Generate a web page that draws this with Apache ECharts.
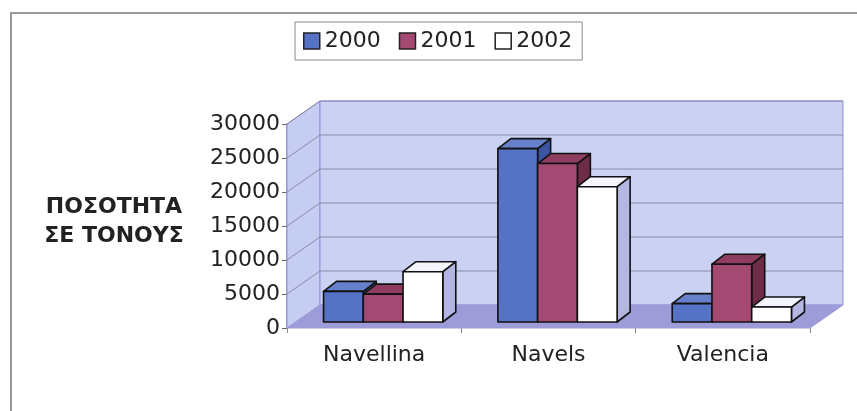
<!DOCTYPE html>
<html>
<head>
<meta charset="utf-8">
<script src="https://cdn.jsdelivr.net/npm/echarts@6/dist/echarts.min.js"></script>
<style>html,body{margin:0;padding:0;background:#fff}#chart{width:857px;height:411px}</style>
</head>
<body>
<div id="chart"></div>
<script>
// data
var categories = ['Navellina', 'Navels', 'Valencia'];
var years = ['2000', '2001', '2002'];
var tons2000 = [4500, 25500, 2700];
var tons2001 = [4100, 23300, 8500];
var tons2002 = [7400, 19900, 2200];
var yTicks = [0, 5000, 10000, 15000, 20000, 25000, 30000];

var myChart = echarts.init(document.getElementById('chart'));

// 3d look: depth of the floor/walls and of the bars
var DEPTH = {x: 33, y: -23};
var BAR_SHIFT = {x: 9, y: -6};
var BAR_DEPTH = {x: 13, y: -10};
var faces = [
	{front: '#5572c4', top: '#6680cc', side: '#3d55a0'},
	{front: '#a44a72', top: '#8e3c60', side: '#6e2c48'},
	{front: '#ffffff', top: '#f4f4fc', side: '#b4b6e2'}
];
var font = 'DejaVu Sans';

function plotEdges(api) {
	var band = api.size([1, 0])[0];
	var L = api.coord([0, 0])[0] - band / 2;
	var R = api.coord([categories.length - 1, 0])[0] + band / 2;
	var yB = api.coord([0, 0])[1];
	var yT = api.coord([0, yTicks[yTicks.length - 1]])[1];
	return {L: L, R: R, yB: yB, yT: yT, band: band};
}

function wallsRender(params, api) {
	var e = plotEdges(api);
	var dx = DEPTH.x, dy = DEPTH.y;
	var edge = {stroke: '#8f8fd6', lineWidth: 1};
	return {
		type: 'group',
		children: [
			{type: 'polygon', shape: {points: [[e.L, e.yB], [e.L, e.yT], [e.L + dx, e.yT + dy], [e.L + dx, e.yB + dy]]},
				style: Object.assign({fill: '#c6cdf2'}, edge)},
			{type: 'rect', shape: {x: e.L + dx, y: e.yT + dy, width: e.R - e.L, height: e.yB - e.yT},
				style: Object.assign({fill: '#cad1f3'}, edge)},
			{type: 'polygon', shape: {points: [[e.L, e.yB], [e.R, e.yB], [e.R + dx, e.yB + dy], [e.L + dx, e.yB + dy]]},
				style: {fill: '#9e9cd8', stroke: '#9e9cd8', lineWidth: 1}}
		]
	};
}

function gridRender(params, api) {
	var v = api.value(0);
	if (v === 0) return null;
	var e = plotEdges(api);
	var y = api.coord([0, v])[1];
	return {
		type: 'polyline',
		shape: {points: [[e.L, y], [e.L + DEPTH.x, y + DEPTH.y], [e.R + DEPTH.x, y + DEPTH.y]]},
		style: {stroke: '#8a8aa6', lineWidth: 1, fill: null}
	};
}

function barRender(idx) {
	return function (params, api) {
		var cat = api.value(0);
		var base = api.coord([cat, 0]);
		var top = api.coord([cat, api.value(1)]);
		var bw = api.size([1, 0])[0] * 0.228;
		var x0 = base[0] - 1.5 * bw + idx * bw + BAR_SHIFT.x;
		var x1 = x0 + bw;
		var yb = base[1] + BAR_SHIFT.y;
		var yt = top[1] + BAR_SHIFT.y;
		var dx = BAR_DEPTH.x, dy = BAR_DEPTH.y;
		var f = faces[idx];
		var line = {stroke: '#111', lineWidth: 1.6, lineJoin: 'round'};
		return {
			type: 'group',
			children: [
				{type: 'polygon', shape: {points: [[x1, yt], [x1 + dx, yt + dy], [x1 + dx, yb + dy], [x1, yb]]},
					style: Object.assign({fill: f.side}, line)},
				{type: 'polygon', shape: {points: [[x0, yt], [x1, yt], [x1 + dx, yt + dy], [x0 + dx, yt + dy]]},
					style: Object.assign({fill: f.top}, line)},
				{type: 'rect', shape: {x: x0, y: yt, width: bw, height: yb - yt},
					style: Object.assign({fill: f.front}, line)}
			]
		};
	};
}

var seriesData = [tons2000, tons2001, tons2002];
var series = [
	{name: 'walls', type: 'custom', renderItem: wallsRender, data: [[0]], silent: true, z: 1},
	{name: 'grid', type: 'custom', renderItem: gridRender, data: yTicks.map(function (t) { return [t]; }), silent: true, z: 2}
];
for (var i = 0; i < years.length; i++) {
	series.push({
		name: years[i],
		type: 'custom',
		renderItem: barRender(i),
		itemStyle: {color: faces[i].front},
		data: seriesData[i].map(function (v, k) { return [k, v]; }),
		z: 3 + i
	});
}

var option = {
	backgroundColor: '#fff',
	animation: false,
	textStyle: {fontFamily: font},
	legend: {
		data: years,
		left: 295,
		top: 22,
		padding: [8, 10, 8, 8],
		borderColor: '#8a8a8a',
		borderWidth: 1,
		itemWidth: 16,
		itemHeight: 16,
		itemGap: 18,
		icon: 'rect',
		itemStyle: {borderColor: '#222', borderWidth: 1.5},
		textStyle: {fontFamily: font, fontSize: 22, color: '#222'}
	},
	grid: {left: 287, right: 47, top: 124, bottom: 83},
	xAxis: {
		type: 'category',
		data: categories,
		axisLine: {show: false},
		axisTick: {show: true, length: 5, lineStyle: {color: '#888'}},
		axisLabel: {fontFamily: font, fontSize: 22, color: '#222', margin: 16},
		splitLine: {show: false}
	},
	yAxis: {
		type: 'value',
		min: 0,
		max: 30000,
		interval: 5000,
		axisLine: {show: true, lineStyle: {color: '#8f8fd6', width: 1.5}},
		axisTick: {show: true, length: 5, lineStyle: {color: '#666'}},
		axisLabel: {fontFamily: font, fontSize: 22, color: '#222', margin: 7, formatter: function (v) { return String(v); }},
		splitLine: {show: false}
	},
	graphic: [
		{type: 'rect', shape: {x: 11, y: 13, width: 900, height: 500}, style: {fill: null, stroke: '#9a9a9a', lineWidth: 2}, silent: true, z: 0},
		{type: 'text', x: 114, y: 193, style: {text: 'ΠΟΣΟΤΗΤΑ\nΣΕ ΤΟΝΟΥΣ', font: 'bold 22px "DejaVu Sans"', fill: '#222', align: 'center', verticalAlign: 'top', lineHeight: 29}, z: 5}
	],
	series: series
};

myChart.setOption(option);
</script>
</body>
</html>
